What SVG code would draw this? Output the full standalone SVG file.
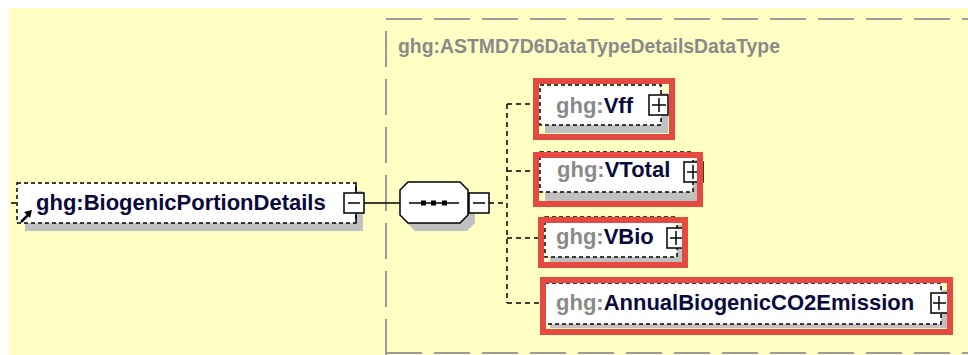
<svg xmlns="http://www.w3.org/2000/svg" width="968" height="355" viewBox="0 0 968 355">
<style>
.bg{fill:#FFFFC4}
.grp{fill:none;stroke:#9a9a9a;stroke-width:2;stroke-dasharray:36 12}
.title{font-family:"Liberation Sans",Arial,sans-serif;font-weight:bold;font-size:20px;fill:#8a8a8a}
.shadow{fill:#c0c0c0}
.box{fill:#ffffff;stroke:#000;stroke-width:1.5;stroke-dasharray:4 3}
.hl{fill:none;stroke:#E5493F;stroke-width:6}
.lbl{font-family:"Liberation Sans",Arial,sans-serif;font-weight:bold;font-size:22px;fill:#0a0a3c}
.ns{fill:#8a8a8a}
.btn{fill:#fff;stroke:#000;stroke-width:1.5}
.sym{fill:none;stroke:#000;stroke-width:1.5}
.con{fill:none;stroke:#000;stroke-width:1.5}
.dcon{fill:none;stroke:#000;stroke-width:1.5;stroke-dasharray:5 4}
</style>
<rect class="bg" x="9" y="8" width="959" height="347"/>
<g id="group-box">
<path class="grp" d="M386,355 V19 H968"/>
<path class="grp" d="M386,353 H968"/>
<text class="title" x="398" y="53" textLength="382" lengthAdjust="spacingAndGlyphs">ghg:ASTMD7D6DataTypeDetailsDataType</text>
</g>
<g id="connectors">
<line class="dcon" x1="11" y1="203" x2="17" y2="203"/>
<line class="con" x1="364" y1="203" x2="400" y2="203"/>
<line class="dcon" x1="489" y1="203" x2="507" y2="203"/>
<line class="dcon" x1="507" y1="104" x2="507" y2="303"/>
<line class="dcon" x1="507" y1="104" x2="533" y2="104"/>
<line class="dcon" x1="507" y1="171" x2="533" y2="171"/>
<line class="dcon" x1="507" y1="238" x2="538" y2="238"/>
<line class="dcon" x1="507" y1="303" x2="540" y2="303"/>
</g>
<g id="BiogenicPortionDetails">
<rect class="shadow" x="25" y="191" width="338" height="40"/>
<rect class="box" x="17" y="183" width="339" height="40"/>
<path d="M21,222 L28,215" stroke="#000" stroke-width="2.5" fill="none"/>
<polygon points="32,210 24,212 30,218" fill="#000"/>
<text class="lbl" x="36" y="210">ghg:BiogenicPortionDetails</text>
<line class="sym" x1="356" y1="184" x2="356" y2="193"/>
<line class="sym" x1="356" y1="213" x2="356" y2="222"/>
<rect class="btn" x="344" y="193" width="20" height="20"/>
<line class="sym" x1="348" y1="203" x2="360" y2="203"/>
</g>
<g id="sequence">
<path class="shadow" d="M415,190 H467 L475,198 V223 L467,231 H415 L407,223 V198 Z"/>
<path d="M408,182 H460 L468,190 V215 L460,223 H408 L400,215 V190 Z" fill="#fff" stroke="#000" stroke-width="1.5"/>
<line class="sym" x1="409" y1="203" x2="459" y2="203"/>
<rect x="421" y="200.5" width="5" height="5" fill="#000"/>
<rect x="431" y="200.5" width="5" height="5" fill="#000"/>
<rect x="442" y="200.5" width="5" height="5" fill="#000"/>
<rect class="btn" x="469" y="193" width="20" height="20"/>
<line class="sym" x1="473" y1="203" x2="485" y2="203"/>
</g>
<g id="Vff">
<rect class="shadow" x="545" y="93" width="123" height="40"/>
<rect class="box" x="540" y="85" width="121" height="40"/>
<text class="lbl" x="556" y="113"><tspan class="ns">ghg:</tspan>Vff</text>
<rect class="btn" x="649" y="95" width="19" height="20"/>
<line class="sym" x1="652" y1="105" x2="666" y2="105"/>
<line class="sym" x1="659" y1="98" x2="659" y2="112"/>
<rect class="hl" x="536" y="81" width="136" height="56"/>
</g>
<g id="VTotal">
<rect class="shadow" x="545" y="160" width="152" height="41"/>
<rect class="box" x="540" y="152" width="153" height="40"/>
<text class="lbl" x="557" y="177"><tspan class="ns">ghg:</tspan>VTotal</text>
<rect class="btn" x="684" y="162" width="19" height="20"/>
<line class="sym" x1="687" y1="172" x2="700" y2="172"/>
<line class="sym" x1="693" y1="165" x2="693" y2="179"/>
<rect class="hl" x="536" y="155" width="164" height="49"/>
</g>
<g id="VBio">
<rect class="shadow" x="550" y="225" width="132" height="38"/>
<rect class="box" x="545" y="217" width="132" height="40"/>
<text class="lbl" x="556" y="244"><tspan class="ns">ghg:</tspan>VBio</text>
<rect class="btn" x="667" y="228" width="18" height="20"/>
<line class="sym" x1="670" y1="238" x2="682" y2="238"/>
<line class="sym" x1="676" y1="231" x2="676" y2="245"/>
<rect class="hl" x="541" y="220" width="144" height="45"/>
</g>
<g id="AnnualBiogenicCO2Emission">
<rect class="shadow" x="550" y="290" width="397" height="38"/>
<rect class="box" x="545" y="283" width="396" height="41"/>
<text class="lbl" x="556" y="310"><tspan class="ns">ghg:</tspan>AnnualBiogenicCO2Emission</text>
<rect class="btn" x="931" y="293" width="17" height="20"/>
<line class="sym" x1="933" y1="303" x2="946" y2="303"/>
<line class="sym" x1="939" y1="296" x2="939" y2="310"/>
<rect class="hl" x="543" y="280" width="407" height="52"/>
</g>
</svg>
